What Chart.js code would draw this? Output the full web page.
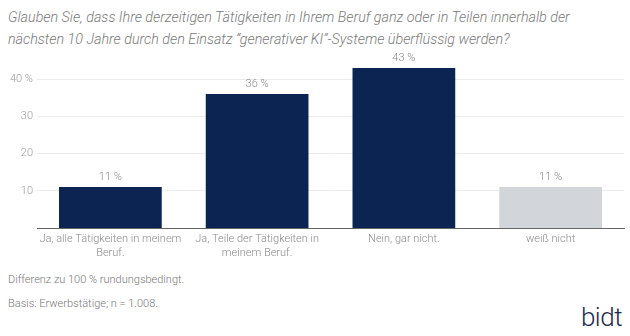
<!DOCTYPE html>
<html>
<head>
<meta charset="utf-8">
<script src="https://cdn.jsdelivr.net/npm/chart.js@4"></script>
<style>
  body { margin: 0; background: #fff; font-family: Roboto, "Open Sans", sans-serif; }
  #wrap { position: relative; width: 630px; height: 336px; overflow: hidden; }
  .title { position: absolute; left: 8px; top: 6px; width: 620px; color: #7a7a7a; font-size: 14.3px; font-style: italic; font-weight: 300; line-height: 22px; }
  .note { position: absolute; left: 8px; color: #777; font-size: 11px; font-weight: 300; }
  .logo { position: absolute; right: 8px; top: 302px; color: #1d2b4c; font-size: 26px; font-weight: 300; letter-spacing: -0.5px; }
  #box { position: absolute; left: 0; top: 50px; width: 630px; height: 220px; }
</style>
</head>
<body>
<div id="wrap">
  <div class="title">Glauben Sie, dass Ihre derzeitigen Tätigkeiten in Ihrem Beruf ganz oder in Teilen innerhalb der<br>nächsten 10 Jahre durch den Einsatz “generativer KI”-Systeme überflüssig werden?</div>
  <div id="box"><canvas id="myChart"></canvas></div>
  <div class="note" style="top:273px">Differenz zu 100 % rundungsbedingt.</div>
  <div class="note" style="top:297px">Basis: Erwerbstätige; n = 1.008.</div>
  <div class="logo">bidt</div>
</div>
<script>
const categories = [
  ['Ja, alle Tätigkeiten in meinem', 'Beruf.'],
  ['Ja, Teile der Tätigkeiten in', 'meinem Beruf.'],
  ['Nein, gar nicht.'],
  ['weiß nicht']
];
const values = [11, 36, 43, 11];
const barColors = ['#0b2451', '#0b2451', '#0b2451', '#d2d6da'];
const tickValues = [10, 20, 30, 40];

// value labels above the bars
const valueLabels = {
  id: 'valueLabels',
  afterDatasetsDraw(chart) {
    const ctx = chart.ctx;
    const meta = chart.getDatasetMeta(0);
    ctx.save();
    ctx.fillStyle = '#8a8a8a';
    ctx.font = '300 11px Roboto';
    ctx.textAlign = 'center';
    ctx.textBaseline = 'bottom';
    meta.data.forEach((bar, i) => {
      ctx.fillText(values[i] + ' %', bar.x, bar.y - 4);
    });
    ctx.restore();
  }
};

const ctx = document.getElementById('myChart').getContext('2d');

var chart = new Chart(ctx, {
  type: 'bar',
  data: {
    labels: categories,
    datasets: [{
      data: values,
      backgroundColor: barColors,
      barPercentage: 0.7,
      categoryPercentage: 1
    }]
  },
  options: {
    responsive: true,
    maintainAspectRatio: false,
    animation: false,
    layout: {
      padding: { top: 10, right: 6, left: 0, bottom: 0 }
    },
    plugins: {
      legend: { display: false },
      tooltip: { enabled: false }
    },
    scales: {
      x: {
        grid: { display: false, drawTicks: false },
        border: { color: '#666', width: 1 },
        ticks: {
          color: '#8a8a8a',
          font: { family: 'Roboto', size: 11, weight: 300 },
          padding: 5,
          maxRotation: 0
        },
        afterFit: function(scale) { scale.height = 42; }
      },
      y: {
        min: 0,
        max: 45,
        grid: { color: '#ececec', drawTicks: false },
        border: { display: false },
        afterBuildTicks: function(scale) {
          scale.ticks = tickValues.map(v => ({ value: v }));
        },
        ticks: {
          color: '#9a9a9a',
          font: { family: 'Roboto', size: 11, weight: 300 },
          padding: 4,
          callback: function(v) { return v === 40 ? '40 %' : v; }
        },
        afterFit: function(scale) { scale.width = 37; }
      }
    }
  },
  plugins: [valueLabels]
});
</script>
</body>
</html>
